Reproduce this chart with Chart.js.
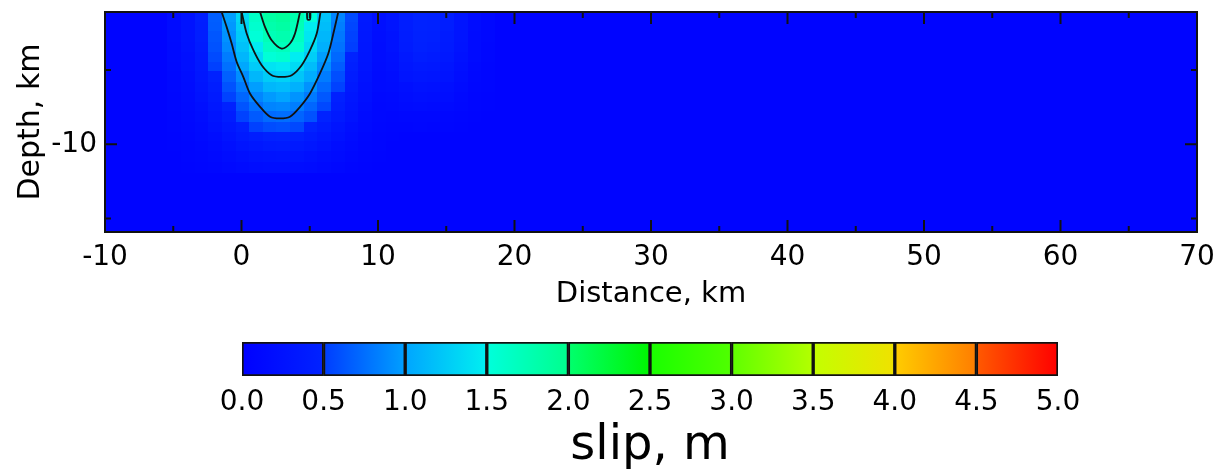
<!DOCTYPE html>
<html>
<head>
<meta charset="utf-8">
<script src="https://cdn.jsdelivr.net/npm/chart.js@4.4.1/dist/chart.umd.min.js"></script>
<style>
  html, body { margin: 0; padding: 0; background: #fff; }
  #wrap { position: relative; width: 1215px; height: 475px; }
  #slipChart { position: absolute; left: 0; top: 0; }
  #barChart { position: absolute; left: 0; top: 330px; }
</style>
</head>
<body>
<div id="wrap">
  <canvas id="slipChart" width="1215" height="320" style="width:1215px;height:320px"></canvas>
  <canvas id="barChart" width="1215" height="145" style="width:1215px;height:145px"></canvas>
</div>
<script>
// fault plane extent (km)
const distRange = [-10, 70];
const depthRange = [-15.9, -1.1];
const backgroundSlip = 0.05;

// cell centres of the part of the grid that differs from background
const distCenters = [-4.9, -3.9, -2.9, -1.9, -0.9, 0.1, 1.1, 2.1, 3.1, 4.1, 5.1, 6.1, 7.1,
  8.1, 9.1, 10.1, 11.1, 12.1, 13.1, 14.1, 15.1, 16.1, 17.1, 18.1, 19.1];
const depthCenters = [-1.44, -2.11, -2.78, -3.46, -4.13, -4.80, -5.47, -6.15,
  -6.82, -7.49, -8.16, -8.84, -9.51, -10.18, -10.85, -11.53];

// slip (m), one row per depth
const slipRows = [
  [0.16,0.26,0.43,0.67,0.99,1.33,1.64,1.85,1.90,1.78,1.52,1.19,0.86,0.57,0.35,0.21,0.28,0.42,0.49,0.47,0.41,0.29,0.17,0.11,0.05],
  [0.15,0.25,0.42,0.66,0.96,1.29,1.59,1.80,1.85,1.73,1.48,1.16,0.83,0.55,0.34,0.21,0.28,0.42,0.49,0.47,0.41,0.29,0.17,0.11,0.05],
  [0.15,0.25,0.41,0.63,0.93,1.25,1.53,1.73,1.78,1.67,1.43,1.12,0.80,0.53,0.33,0.20,0.26,0.40,0.47,0.45,0.39,0.28,0.16,0.11,0.05],
  [0.14,0.24,0.39,0.61,0.89,1.19,1.47,1.65,1.70,1.59,1.36,1.07,0.77,0.51,0.32,0.19,0.25,0.38,0.45,0.43,0.37,0.27,0.16,0.10,0.05],
  [0.14,0.22,0.36,0.57,0.82,1.11,1.36,1.53,1.58,1.48,1.27,0.99,0.72,0.48,0.30,0.18,0.23,0.34,0.41,0.39,0.34,0.24,0.15,0.10,0.05],
  [0.13,0.21,0.34,0.52,0.76,1.02,1.25,1.41,1.45,1.36,1.16,0.91,0.66,0.44,0.28,0.17,0.21,0.31,0.35,0.34,0.30,0.22,0.13,0.09,0.05],
  [0.12,0.19,0.31,0.47,0.68,0.91,1.12,1.26,1.30,1.22,1.05,0.82,0.59,0.40,0.25,0.16,0.19,0.28,0.31,0.30,0.27,0.19,0.12,0.09,0.05],
  [0.11,0.17,0.28,0.42,0.61,0.81,0.99,1.12,1.15,1.08,0.93,0.73,0.53,0.36,0.23,0.15,0.17,0.22,0.25,0.24,0.21,0.16,0.10,0.08,0.05],
  [0.10,0.16,0.25,0.37,0.53,0.71,0.87,0.97,1.00,0.94,0.81,0.64,0.46,0.32,0.21,0.13,0.14,0.19,0.21,0.20,0.18,0.13,0.09,0.07,0.05],
  [0.10,0.14,0.22,0.33,0.47,0.62,0.76,0.86,0.88,0.83,0.71,0.56,0.41,0.28,0.19,0.12,0.13,0.15,0.17,0.16,0.14,0.11,0.08,0.07,0.05],
  [0.09,0.13,0.19,0.29,0.40,0.53,0.65,0.73,0.75,0.70,0.61,0.48,0.35,0.25,0.16,0.11,0.10,0.11,0.12,0.11,0.10,0.09,0.07,0.06,0.05],
  [0.08,0.11,0.16,0.24,0.33,0.43,0.52,0.58,0.60,0.56,0.49,0.39,0.29,0.20,0.14,0.10,0.09,0.09,0.10,0.09,0.09,0.07,0.06,0.06,0.05],
  [0.07,0.10,0.14,0.19,0.27,0.35,0.42,0.47,0.48,0.45,0.39,0.32,0.24,0.17,0.12,0.09,0.07,0.06,0.05,0.05,0.05,0.05,0.05,0.05,0.05],
  [0.07,0.09,0.12,0.16,0.22,0.28,0.33,0.37,0.38,0.36,0.31,0.25,0.19,0.14,0.10,0.08,0.06,0.05,0.05,0.05,0.05,0.05,0.05,0.05,0.05],
  [0.06,0.08,0.10,0.13,0.17,0.21,0.25,0.27,0.28,0.27,0.23,0.19,0.15,0.11,0.09,0.07,0.06,0.05,0.05,0.05,0.05,0.05,0.05,0.05,0.05],
  [0.06,0.07,0.08,0.10,0.13,0.15,0.18,0.20,0.20,0.19,0.17,0.14,0.12,0.09,0.07,0.06,0.05,0.05,0.05,0.05,0.05,0.05,0.05,0.05,0.05]
];

// contour lines (distance, depth)
const contour10 = [[-1.45,-1.1],[-1.09,-2.1],[-0.72,-3.22],[-0.35,-4.46],[0.13,-5.46],[0.62,-6.58],
  [1.36,-7.48],[2.09,-8.15],[2.82,-8.26],[3.55,-8.15],[4.29,-7.48],[5.02,-6.58],[5.75,-5.23],
  [6.36,-3.89],[6.73,-2.55],[7.09,-1.1]];
const contour15 = [[0.01,-1.1],[0.38,-2.55],[0.87,-3.67],[1.48,-4.68],[2.21,-5.35],[2.94,-5.46],
  [3.68,-5.35],[4.41,-4.68],[5.02,-3.67],[5.51,-2.55],[5.79,-1.1]];
const contour20 = [[1.36,-1.1],[1.72,-2.1],[2.21,-3.0],[2.94,-3.56],[3.55,-3.22],[3.92,-2.55],[4.29,-1.1]];
const contourSmall = [[4.8,-1.1],[4.83,-1.6],[5.02,-1.6],[5.05,-1.1]];

const xTicks = [-10, 0, 10, 20, 30, 40, 50, 60, 70];
const xMinorTicks = [-5, 5, 15, 25, 35, 45, 55, 65];
const yTicks = [-10];
const yMinorTicks = [-5, -15];

// colour scale, one gradient per 0.5 m step
const slipBreaks = [0, 0.5, 1.0, 1.5, 2.0, 2.5, 3.0, 3.5, 4.0, 4.5, 5.0];
const segLow  = [[0,0,255],[0,60,255],[0,165,255],[0,255,220],[0,255,110],[25,255,0],[95,255,0],[195,255,0],[255,205,0],[255,90,0]];
const segHigh = [[0,35,255],[0,160,255],[0,240,240],[0,255,140],[0,245,0],[80,255,0],[180,255,0],[240,225,0],[255,125,0],[255,0,0]];

const FONT = 'DejaVu Sans';

function rgb(c) { return 'rgb(' + c.map(Math.round).join(',') + ')'; }

function slipColor(v) {
  let i = slipBreaks.findIndex((b, k) => k < slipBreaks.length - 1 && v < slipBreaks[k + 1]);
  if (i < 0) i = segLow.length - 1;
  const t = Math.max(0, Math.min(1, (v - slipBreaks[i]) / (slipBreaks[i + 1] - slipBreaks[i])));
  return rgb(segLow[i].map((c, k) => c + (segHigh[i][k] - c) * t));
}

const heatmap = {
  id: 'heatmap',
  beforeDatasetsDraw(chart) {
    const { ctx, chartArea: a, scales: { x, y } } = chart;
    ctx.save();
    ctx.beginPath();
    ctx.rect(a.left, a.top, a.width, a.height);
    ctx.clip();
    ctx.fillStyle = slipColor(backgroundSlip);
    ctx.fillRect(a.left, a.top, a.width, a.height);
    const hx = (distCenters[1] - distCenters[0]) / 2;
    const hy = (depthCenters[0] - depthCenters[1]) / 2;
    slipRows.forEach((row, j) => {
      const y0 = Math.floor(y.getPixelForValue(depthCenters[j] + hy));
      const y1 = Math.ceil(y.getPixelForValue(depthCenters[j] - hy));
      row.forEach((v, i) => {
        const x0 = Math.floor(x.getPixelForValue(distCenters[i] - hx));
        const x1 = Math.ceil(x.getPixelForValue(distCenters[i] + hx));
        ctx.fillStyle = slipColor(v);
        ctx.fillRect(x0, y0, x1 - x0, y1 - y0);
      });
    });
    ctx.restore();
  }
};

// frame with inward ticks
const frame = {
  id: 'frame',
  afterDatasetsDraw(chart) {
    const { ctx, chartArea: a, scales: { x, y } } = chart;
    ctx.save();
    ctx.strokeStyle = '#111';
    ctx.lineWidth = 2;
    ctx.beginPath();
    const tick = (vals, len) => {
      vals.forEach(v => {
        const px = x.getPixelForValue(v);
        ctx.moveTo(px, a.bottom); ctx.lineTo(px, a.bottom - len);
        ctx.moveTo(px, a.top); ctx.lineTo(px, a.top + len);
      });
    };
    const ytick = (vals, len) => {
      vals.forEach(v => {
        const py = y.getPixelForValue(v);
        ctx.moveTo(a.left, py); ctx.lineTo(a.left + len, py);
        ctx.moveTo(a.right, py); ctx.lineTo(a.right - len, py);
      });
    };
    tick(xTicks, 12); tick(xMinorTicks, 6);
    ytick(yTicks, 12); ytick(yMinorTicks, 6);
    ctx.stroke();
    ctx.strokeRect(a.left, a.top, a.width, a.height);
    ctx.restore();
  }
};

function noPad(s) {
  s.paddingLeft = 0; s.paddingRight = 0; s.paddingTop = 0; s.paddingBottom = 0;
}

const toPts = arr => arr.map(p => ({ x: p[0], y: p[1] }));
const contourStyle = { showLine: true, borderColor: '#111', borderWidth: 1.8, pointRadius: 0, tension: 0.3, fill: false };

new Chart(document.getElementById('slipChart'), {
  type: 'scatter',
  data: {
    datasets: [
      { ...contourStyle, data: toPts(contour10) },
      { ...contourStyle, data: toPts(contour15) },
      { ...contourStyle, data: toPts(contour20) },
      { ...contourStyle, data: toPts(contourSmall) }
    ]
  },
  options: {
    responsive: false,
    animation: false,
    layout: { padding: { top: 12, right: 18, left: 0, bottom: 0 } },
    plugins: { legend: { display: false }, tooltip: { enabled: false } },
    scales: {
      x: {
        type: 'linear', min: distRange[0], max: distRange[1],
        grid: { display: false, drawTicks: false },
        border: { display: false },
        afterBuildTicks: s => { s.ticks = xTicks.map(v => ({ value: v })); },
        afterFit: s => { s.height = 88; noPad(s); },
        ticks: { font: { family: FONT, size: 28 }, color: '#000', padding: 9, maxRotation: 0, autoSkip: false },
        title: { display: true, text: 'Distance, km', color: '#000', font: { family: FONT, size: 29 }, padding: { top: 0, bottom: 8 } }
      },
      y: {
        type: 'linear', min: depthRange[0], max: depthRange[1],
        grid: { display: false, drawTicks: false },
        border: { display: false },
        afterBuildTicks: s => { s.ticks = yTicks.map(v => ({ value: v })); },
        afterFit: s => { s.width = 105; noPad(s); },
        ticks: { font: { family: FONT, size: 28 }, color: '#000', padding: 8 },
        title: { display: true, text: 'Depth, km', color: '#000', font: { family: FONT, size: 30 }, padding: { top: 13, bottom: 0 } }
      }
    }
  },
  plugins: [heatmap, frame]
});

new Chart(document.getElementById('barChart'), {
  type: 'bar',
  data: {
    labels: ['slip'],
    datasets: segLow.map((c, i) => ({
      data: [[slipBreaks[i], slipBreaks[i + 1]]],
      grouped: false,
      barPercentage: 1,
      categoryPercentage: 1,
      borderColor: '#111',
      borderWidth: 2,
      borderSkipped: false,
      backgroundColor: ctx => {
        const xs = ctx.chart.scales.x;
        const p0 = xs ? xs.getPixelForValue(slipBreaks[i]) : NaN;
        const p1 = xs ? xs.getPixelForValue(slipBreaks[i + 1]) : NaN;
        if (!Number.isFinite(p0) || !Number.isFinite(p1) || p0 === p1) return rgb(segLow[i]);
        const g = ctx.chart.ctx.createLinearGradient(p0, 0, p1, 0);
        g.addColorStop(0, rgb(segLow[i]));
        g.addColorStop(1, rgb(segHigh[i]));
        return g;
      }
    }))
  },
  options: {
    indexAxis: 'y',
    responsive: false,
    animation: false,
    layout: { padding: { left: 242, right: 157, top: 12, bottom: 0 } },
    plugins: { legend: { display: false }, tooltip: { enabled: false } },
    scales: {
      y: { display: false },
      x: {
        type: 'linear', min: 0, max: 5,
        grid: { display: false, drawTicks: false },
        border: { display: false },
        afterBuildTicks: s => { s.ticks = slipBreaks.map(v => ({ value: v })); },
        afterFit: s => { s.height = 99; noPad(s); },
        ticks: { font: { family: FONT, size: 28 }, color: '#000', padding: 10, maxRotation: 0, autoSkip: false,
                 callback: v => Number(v).toFixed(1) },
        title: { display: true, text: 'slip, m', color: '#000', font: { family: FONT, size: 48 }, padding: { top: 0, bottom: 0 } }
      }
    }
  }
});
</script>
</body>
</html>
